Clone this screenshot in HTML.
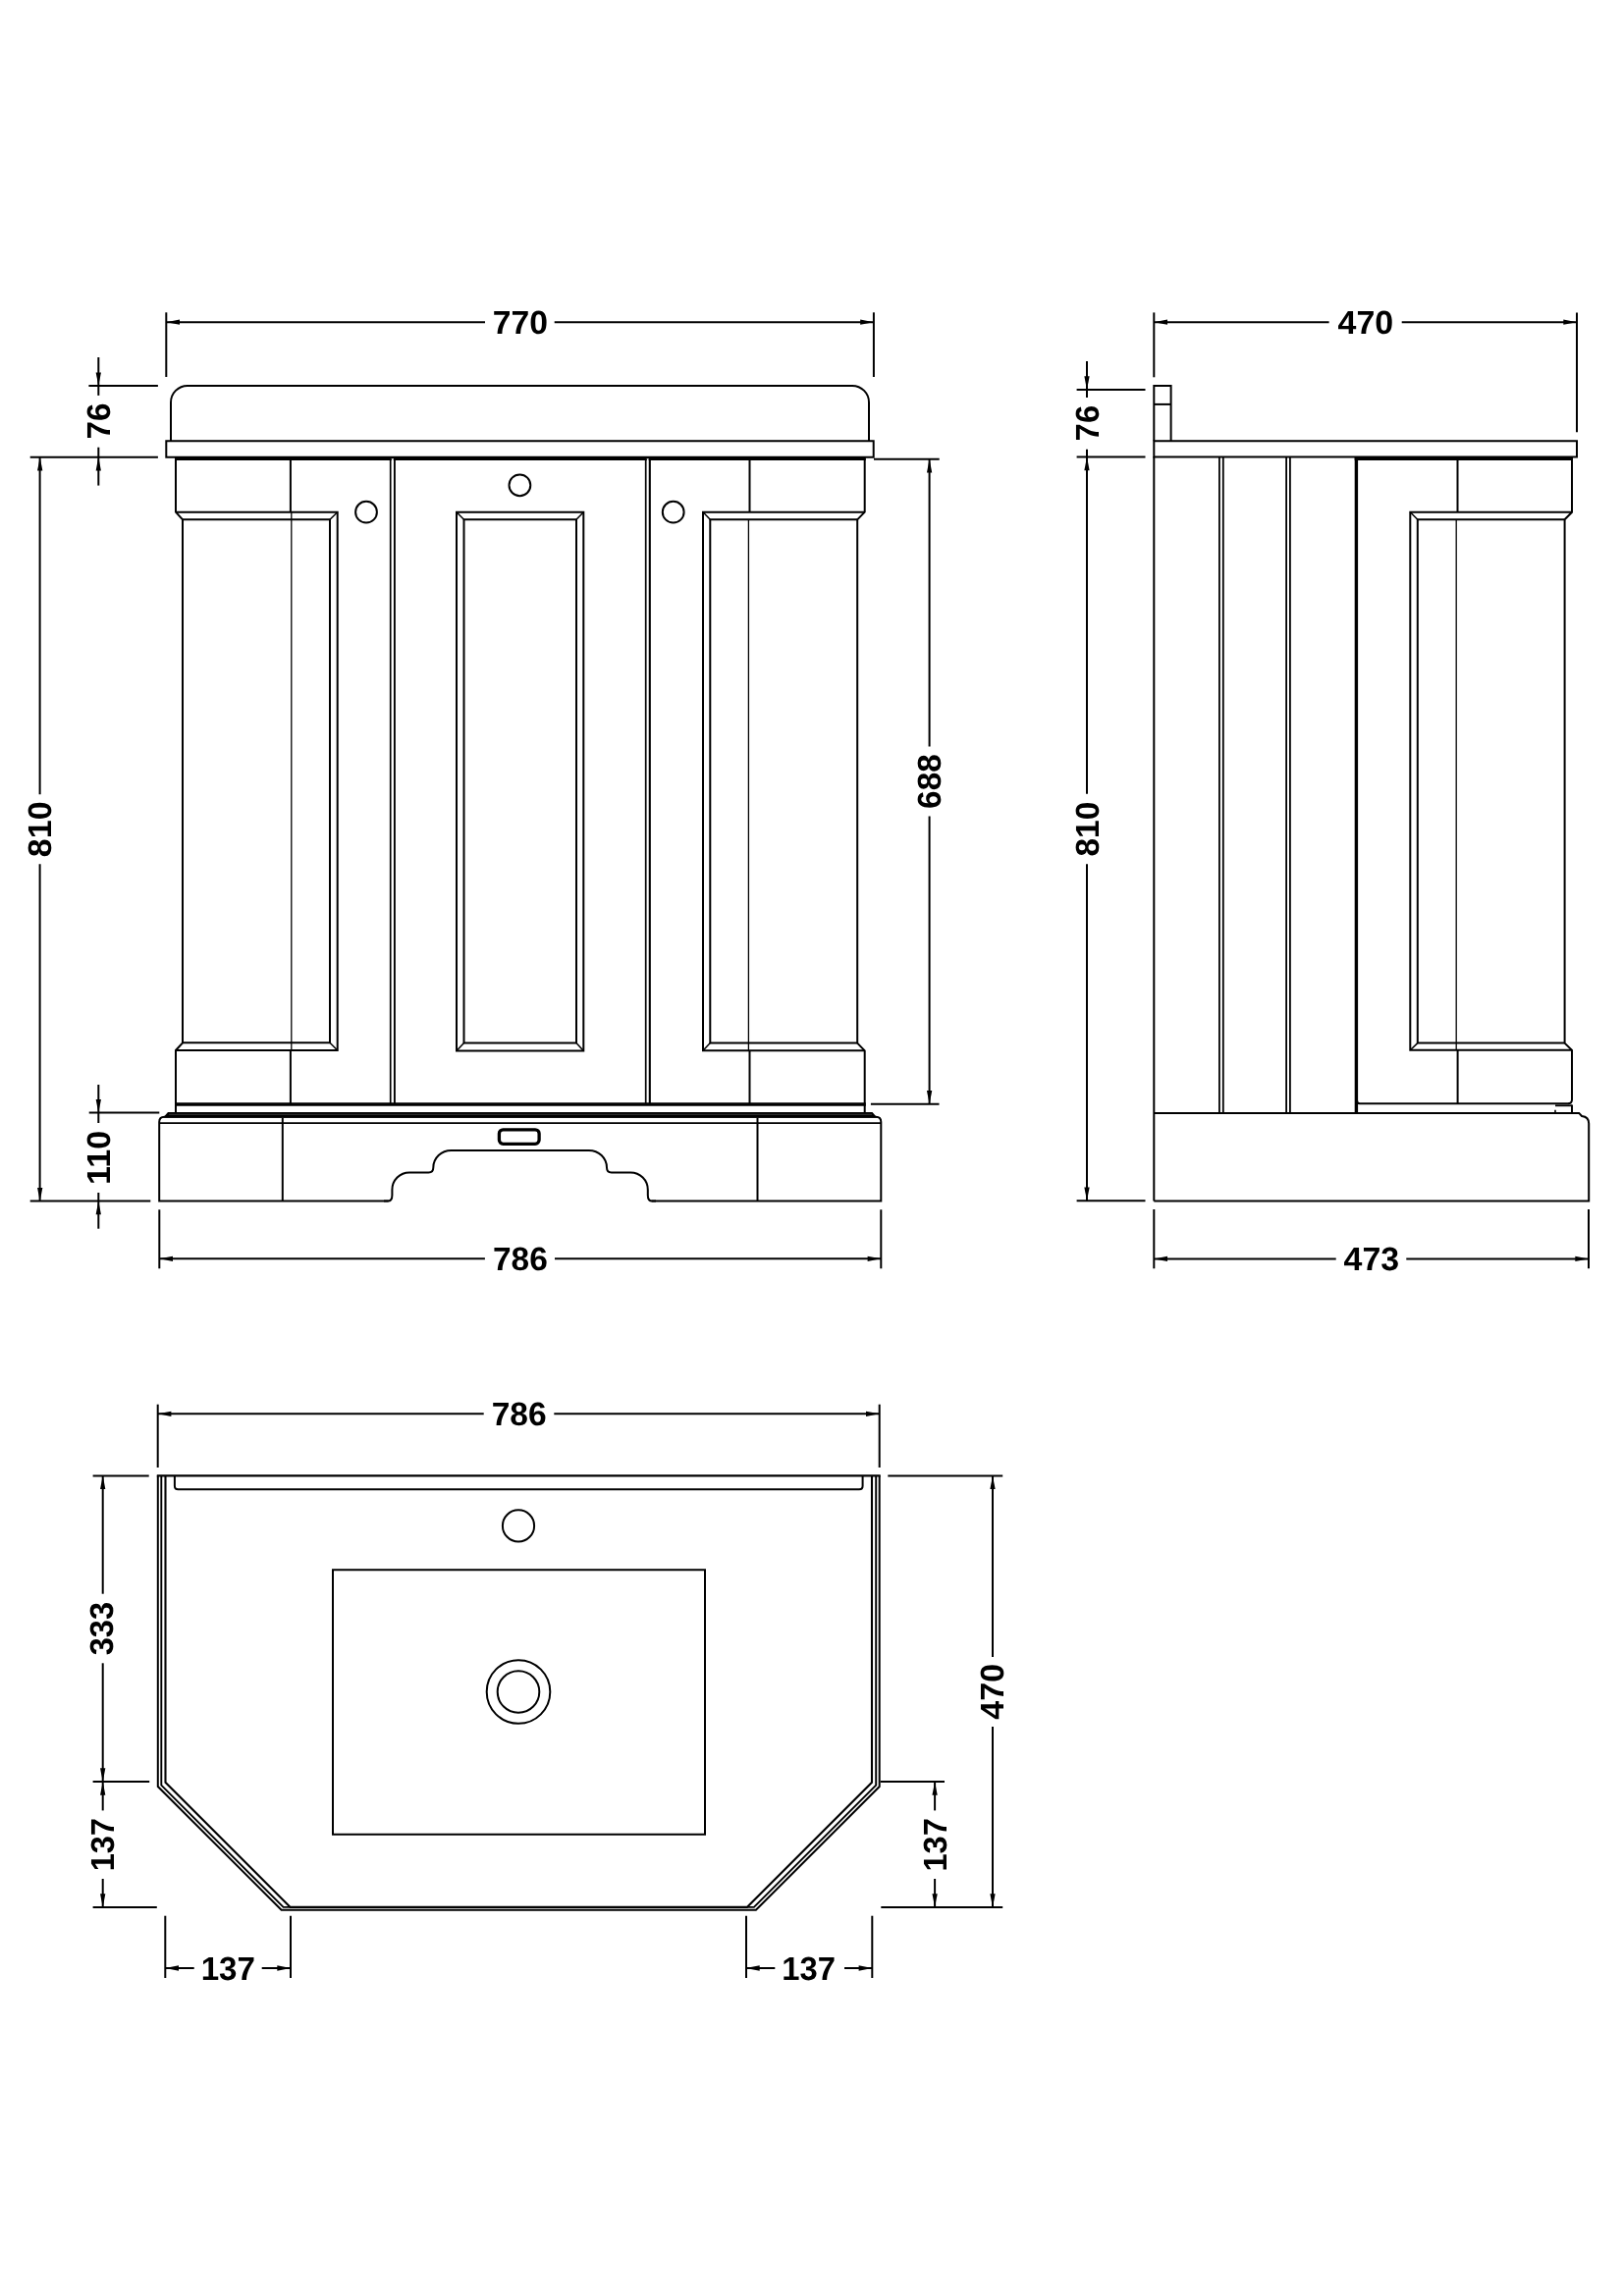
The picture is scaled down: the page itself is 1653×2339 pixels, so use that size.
<!DOCTYPE html>
<html><head><meta charset="utf-8"><title>Vanity unit technical drawing</title>
<style>
html,body{margin:0;padding:0;background:#fff;}
body{width:1653px;height:2339px;overflow:hidden;}
svg{display:block;will-change:transform;}
svg *{stroke:#000;fill:none;}
svg .f{fill:#000;stroke:none;}
svg text{font-family:"Liberation Sans",sans-serif;font-weight:bold;font-size:33.5px;fill:#000;stroke:none;text-rendering:geometricPrecision;}
</style></head><body>
<svg width="1653" height="2339" viewBox="0 0 1653 2339" stroke-linecap="butt">
<rect x="0" y="0" width="1653" height="2339" style="fill:#fff;stroke:none"/>
<line x1="169.3" y1="318.3" x2="169.3" y2="384" stroke-width="2"/>
<line x1="889.9" y1="318.3" x2="889.9" y2="384" stroke-width="2"/>
<line x1="169.3" y1="328.2" x2="494" y2="328.2" stroke-width="2"/>
<line x1="564.7" y1="328.2" x2="889.9" y2="328.2" stroke-width="2"/>
<polygon points="169.30,328.20 183.00,325.55 183.00,330.85" class="f"/>
<polygon points="889.90,328.20 876.20,325.55 876.20,330.85" class="f"/>
<text x="529.9" y="340.2" text-anchor="middle" textLength="56.2" lengthAdjust="spacingAndGlyphs">770</text>
<line x1="90.4" y1="393.1" x2="160.9" y2="393.1" stroke-width="2"/>
<line x1="30.7" y1="465.7" x2="160.9" y2="465.7" stroke-width="2"/>
<line x1="100.3" y1="364" x2="100.3" y2="402.9" stroke-width="2"/>
<polygon points="100.30,393.10 97.65,379.40 102.95,379.40" class="f"/>
<line x1="100.3" y1="455.7" x2="100.3" y2="494.6" stroke-width="2"/>
<polygon points="100.30,465.70 97.65,479.40 102.95,479.40" class="f"/>
<text transform="translate(112.40,429.1) rotate(-90)" text-anchor="middle" textLength="36.8" lengthAdjust="spacingAndGlyphs">76</text>
<line x1="40.6" y1="465.7" x2="40.6" y2="809.2" stroke-width="2"/>
<line x1="40.6" y1="880.3" x2="40.6" y2="1223.6" stroke-width="2"/>
<polygon points="40.70,465.70 38.05,479.40 43.35,479.40" class="f"/>
<polygon points="40.70,1223.60 38.05,1209.90 43.35,1209.90" class="f"/>
<line x1="30.7" y1="1223.6" x2="153.3" y2="1223.6" stroke-width="2"/>
<text transform="translate(52.10,844.8) rotate(-90)" text-anchor="middle" textLength="56.8" lengthAdjust="spacingAndGlyphs">810</text>
<line x1="90.7" y1="1133.5" x2="162.3" y2="1133.5" stroke-width="2"/>
<line x1="100.3" y1="1105" x2="100.3" y2="1144" stroke-width="2"/>
<polygon points="100.30,1133.60 97.65,1119.90 102.95,1119.90" class="f"/>
<line x1="100.3" y1="1215" x2="100.3" y2="1251.7" stroke-width="2"/>
<polygon points="100.30,1223.60 97.65,1237.30 102.95,1237.30" class="f"/>
<text transform="translate(112.10,1179.4) rotate(-90)" text-anchor="middle" textLength="55.0" lengthAdjust="spacingAndGlyphs">110</text>
<line x1="890" y1="467.7" x2="956.7" y2="467.7" stroke-width="2"/>
<line x1="886.9" y1="1124.7" x2="956.5" y2="1124.7" stroke-width="2"/>
<line x1="946.6" y1="467.7" x2="946.6" y2="760.4" stroke-width="2"/>
<line x1="946.6" y1="831.4" x2="946.6" y2="1124.7" stroke-width="2"/>
<polygon points="946.60,467.70 943.95,481.40 949.25,481.40" class="f"/>
<polygon points="946.60,1124.70 943.95,1111.00 949.25,1111.00" class="f"/>
<text transform="translate(958.30,796.1) rotate(-90)" text-anchor="middle" textLength="55.6" lengthAdjust="spacingAndGlyphs">688</text>
<line x1="162.3" y1="1232.3" x2="162.3" y2="1292.3" stroke-width="2"/>
<line x1="897.3" y1="1232.3" x2="897.3" y2="1292.3" stroke-width="2"/>
<line x1="162.3" y1="1282.3" x2="493.9" y2="1282.3" stroke-width="2"/>
<line x1="565" y1="1282.3" x2="897.3" y2="1282.3" stroke-width="2"/>
<polygon points="162.30,1282.30 176.00,1279.65 176.00,1284.95" class="f"/>
<polygon points="897.30,1282.30 883.60,1279.65 883.60,1284.95" class="f"/>
<text x="529.9" y="1294.0" text-anchor="middle" textLength="55.8" lengthAdjust="spacingAndGlyphs">786</text>
<path d="M174,449.3 V410 A17,17 0 0 1 191,392.9 H868 A17,17 0 0 1 885,410 V449.3" stroke-width="2" />
<path d="M169.3,449.3 H889.7 V465.7 H169.3 Z" stroke-width="2" />
<line x1="178" y1="466.9" x2="881.7" y2="466.9" stroke-width="4"/>
<path d="M179,467 V521.7 L186,529.3 V1062.3 L179,1070 V1134" stroke-width="2" />
<path d="M179,521.7 H343.7 V1070 H179" stroke-width="2" />
<path d="M186,529.3 H336 V1062.3 H186" stroke-width="2" />
<line x1="343.7" y1="521.7" x2="336" y2="529.3" stroke-width="1.5"/>
<line x1="343.7" y1="1070" x2="336" y2="1062.3" stroke-width="1.5"/>
<line x1="295.9" y1="467" x2="295.9" y2="521.7" stroke-width="2"/>
<line x1="296.8" y1="521.7" x2="296.8" y2="1070" stroke-width="1.3"/>
<line x1="295.9" y1="1070" x2="295.9" y2="1124" stroke-width="2"/>
<line x1="397.7" y1="468" x2="397.7" y2="1124" stroke-width="1.7"/>
<line x1="401.9" y1="468" x2="401.9" y2="1124" stroke-width="1.9"/>
<line x1="657.7" y1="468" x2="657.7" y2="1124" stroke-width="1.7"/>
<line x1="661.8" y1="468" x2="661.8" y2="1124" stroke-width="2.1"/>
<path d="M398.6,467.2 H401 L400.4,469.5 H399.2 Z M658.6,467.2 H660.8 L660.2,469.5 H659.2 Z" style="fill:#fff;stroke:none"/>
<path d="M465,521.7 H594.3 V1070.5 H465 Z" stroke-width="2" />
<path d="M472.5,529.3 H587 V1062.5 H472.5 Z" stroke-width="2" />
<line x1="465" y1="521.7" x2="472.5" y2="529.3" stroke-width="1.5"/>
<line x1="594.3" y1="521.7" x2="587" y2="529.3" stroke-width="1.5"/>
<line x1="465" y1="1070.5" x2="472.5" y2="1062.5" stroke-width="1.5"/>
<line x1="594.3" y1="1070.5" x2="587" y2="1062.5" stroke-width="1.5"/>
<path d="M880.7,467 V521.7 L873.2,529.3 V1062.6 L880.7,1070.3 V1134" stroke-width="2" />
<path d="M880.7,521.7 H716 V1070.3 H880.7" stroke-width="2" />
<path d="M873.2,529.3 H723.3 V1062.6 H873.2" stroke-width="2" />
<line x1="716" y1="521.7" x2="723.3" y2="529.3" stroke-width="1.5"/>
<line x1="716" y1="1070.3" x2="723.3" y2="1062.6" stroke-width="1.5"/>
<line x1="763.5" y1="467" x2="763.5" y2="521.7" stroke-width="2"/>
<line x1="762.4" y1="529.3" x2="762.4" y2="1070" stroke-width="1.3"/>
<line x1="763.5" y1="1070" x2="763.5" y2="1124" stroke-width="2"/>
<circle cx="373" cy="521.7" r="10.9" stroke-width="2"/>
<circle cx="529.4" cy="494.3" r="10.9" stroke-width="2"/>
<circle cx="685.7" cy="521.7" r="10.9" stroke-width="2"/>
<line x1="178" y1="1125.0" x2="881.7" y2="1125.0" stroke-width="3.5"/>
<polygon points="171,1133.1 888.5,1133.1 893.5,1138.7 166,1138.7" class="f"/>
<line x1="172" y1="1135.3" x2="888" y2="1135.3" style="stroke:#3c3c3c;stroke-width:0.9"/>
<path d="M395.6,1223.6 H162.2 V1143 Q162.2,1137.7 167.5,1137.7 H892 Q897.3,1137.7 897.3,1143 V1223.6 H663.6" stroke-width="2" />
<line x1="162.2" y1="1144.1" x2="897.3" y2="1144.1" stroke-width="1.6"/>
<line x1="287.8" y1="1139" x2="287.8" y2="1223.6" stroke-width="2"/>
<line x1="771.5" y1="1139" x2="771.5" y2="1223.6" stroke-width="2"/>
<path d="M391,1223.6 H395 Q399.4,1223.6 399.4,1217.5 V1212 A17.6,17.6 0 0 1 417,1194.4 H436.5 Q441.3,1194.4 441.3,1189.5 A18.2,17.6 0 0 1 459.5,1171.9 H599.8 A18.2,17.6 0 0 1 618,1189.5 Q618,1194.4 622.8,1194.4 H642.2 A17.6,17.6 0 0 1 659.8,1212 V1217.5 Q659.8,1223.6 664.2,1223.6 H668" stroke-width="2" />
<rect x="508.4" y="1150.85" width="40.7" height="14.5" rx="4" ry="4" stroke-width="3.3"/>
<line x1="1175.3" y1="318.4" x2="1175.3" y2="384.3" stroke-width="2"/>
<line x1="1606" y1="318.4" x2="1606" y2="440.2" stroke-width="2"/>
<line x1="1175.3" y1="328.2" x2="1353.6" y2="328.2" stroke-width="2"/>
<line x1="1427.7" y1="328.2" x2="1606" y2="328.2" stroke-width="2"/>
<polygon points="1175.30,328.20 1189.00,325.55 1189.00,330.85" class="f"/>
<polygon points="1606.00,328.20 1592.30,325.55 1592.30,330.85" class="f"/>
<text x="1390.9" y="340.2" text-anchor="middle" textLength="56.6" lengthAdjust="spacingAndGlyphs">470</text>
<line x1="1096.6" y1="396.9" x2="1166.5" y2="396.9" stroke-width="2"/>
<line x1="1096.6" y1="465.6" x2="1166.5" y2="465.6" stroke-width="2"/>
<line x1="1096.6" y1="1223.2" x2="1166.5" y2="1223.2" stroke-width="2"/>
<line x1="1107" y1="368" x2="1107" y2="404.9" stroke-width="2"/>
<polygon points="1107.00,396.90 1104.35,383.20 1109.65,383.20" class="f"/>
<line x1="1107" y1="457.8" x2="1107" y2="808.8" stroke-width="2"/>
<polygon points="1107.00,465.60 1104.35,479.30 1109.65,479.30" class="f"/>
<line x1="1107" y1="880.3" x2="1107" y2="1223.2" stroke-width="2"/>
<polygon points="1107.00,1223.20 1104.35,1209.50 1109.65,1209.50" class="f"/>
<text transform="translate(1118.50,431.1) rotate(-90)" text-anchor="middle" textLength="36.6" lengthAdjust="spacingAndGlyphs">76</text>
<text transform="translate(1118.50,844.6) rotate(-90)" text-anchor="middle" textLength="55.8" lengthAdjust="spacingAndGlyphs">810</text>
<line x1="1175.3" y1="1232" x2="1175.3" y2="1292.3" stroke-width="2"/>
<line x1="1618" y1="1232" x2="1618" y2="1292.3" stroke-width="2"/>
<line x1="1175.3" y1="1282.4" x2="1360.7" y2="1282.4" stroke-width="2"/>
<line x1="1432.3" y1="1282.4" x2="1618" y2="1282.4" stroke-width="2"/>
<polygon points="1175.30,1282.40 1189.00,1279.75 1189.00,1285.05" class="f"/>
<polygon points="1618.00,1282.40 1604.30,1279.75 1604.30,1285.05" class="f"/>
<text x="1396.9" y="1294.3" text-anchor="middle" textLength="56.6" lengthAdjust="spacingAndGlyphs">473</text>
<path d="M1175.3,449.3 V392.9 H1192.6 V449.3" stroke-width="2" />
<line x1="1175.3" y1="411.9" x2="1192.6" y2="411.9" stroke-width="2"/>
<path d="M1175.3,449.3 H1606 V465.4 H1175.3 Z" stroke-width="2" />
<line x1="1175.3" y1="465" x2="1175.3" y2="1223.5" stroke-width="2"/>
<line x1="1241.9" y1="466" x2="1241.9" y2="1133.9" stroke-width="1.8"/>
<line x1="1245.8" y1="466" x2="1245.8" y2="1133.9" stroke-width="1.8"/>
<line x1="1310.1" y1="466" x2="1310.1" y2="1133.9" stroke-width="1.8"/>
<line x1="1313.9" y1="466" x2="1313.9" y2="1133.9" stroke-width="1.8"/>
<line x1="1381.4" y1="466" x2="1381.4" y2="1133.9" stroke-width="3.4"/>
<line x1="1379.7" y1="466.9" x2="1602" y2="466.9" stroke-width="4"/>
<path d="M1601,467 V521.8 L1593.6,529.2 V1062.6 L1601,1069.8 V1120.3 Q1601,1124.3 1597,1124.3" stroke-width="2" />
<line x1="1601" y1="1125.4" x2="1601" y2="1134" stroke-width="2"/>
<path d="M1601,521.8 H1436.3 V1069.8 H1601" stroke-width="2" />
<path d="M1593.6,529.2 H1443.8 V1062.6 H1593.6" stroke-width="2" />
<line x1="1436.3" y1="521.8" x2="1443.8" y2="529.2" stroke-width="1.5"/>
<line x1="1436.3" y1="1069.8" x2="1443.8" y2="1062.6" stroke-width="1.5"/>
<line x1="1484.5" y1="467" x2="1484.5" y2="521.8" stroke-width="2"/>
<line x1="1483.2" y1="529.2" x2="1483.2" y2="1069.8" stroke-width="1.3"/>
<line x1="1484.6" y1="1069.8" x2="1484.6" y2="1124.3" stroke-width="2"/>
<path d="M1382,1121 Q1382,1124.3 1385,1124.3 H1597.5" stroke-width="2" />
<line x1="1584" y1="1126.3" x2="1601" y2="1126.3" stroke-width="1.8"/>
<line x1="1584" y1="1130.8" x2="1584" y2="1134" stroke-width="1.6"/>
<path d="M1175.3,1133.9 H1608.2 L1611,1137 Q1618.2,1137.8 1618.2,1144.5 V1223.5 H1175.3" stroke-width="2" />
<line x1="160.7" y1="1430.7" x2="160.7" y2="1495" stroke-width="2"/>
<line x1="895.7" y1="1430.7" x2="895.7" y2="1495" stroke-width="2"/>
<line x1="160.7" y1="1440.3" x2="492.7" y2="1440.3" stroke-width="2"/>
<line x1="564.3" y1="1440.3" x2="895.7" y2="1440.3" stroke-width="2"/>
<polygon points="160.70,1440.30 174.40,1437.65 174.40,1442.95" class="f"/>
<polygon points="895.70,1440.30 882.00,1437.65 882.00,1442.95" class="f"/>
<text x="528.7" y="1452.2" text-anchor="middle" textLength="56.0" lengthAdjust="spacingAndGlyphs">786</text>
<line x1="94.6" y1="1503.4" x2="151.7" y2="1503.4" stroke-width="2"/>
<line x1="94.6" y1="1815.0" x2="152.2" y2="1815.0" stroke-width="2"/>
<line x1="94.6" y1="1942.9" x2="159.8" y2="1942.9" stroke-width="2"/>
<line x1="104.7" y1="1503.4" x2="104.7" y2="1623.7" stroke-width="2"/>
<line x1="104.7" y1="1694.3" x2="104.7" y2="1844.4" stroke-width="2"/>
<polygon points="104.70,1503.40 102.05,1517.10 107.35,1517.10" class="f"/>
<polygon points="104.70,1815.00 102.05,1801.30 107.35,1801.30" class="f"/>
<polygon points="104.70,1815.00 102.05,1828.70 107.35,1828.70" class="f"/>
<line x1="104.7" y1="1914" x2="104.7" y2="1942.9" stroke-width="2"/>
<polygon points="104.70,1942.90 102.05,1929.20 107.35,1929.20" class="f"/>
<text transform="translate(115.40,1659.1) rotate(-90)" text-anchor="middle" textLength="54.4" lengthAdjust="spacingAndGlyphs">333</text>
<text transform="translate(115.70,1879.2) rotate(-90)" text-anchor="middle" textLength="54.2" lengthAdjust="spacingAndGlyphs">137</text>
<line x1="904.3" y1="1503.4" x2="1021.2" y2="1503.4" stroke-width="2"/>
<line x1="896.7" y1="1815.0" x2="962" y2="1815.0" stroke-width="2"/>
<line x1="897.3" y1="1942.9" x2="1021.2" y2="1942.9" stroke-width="2"/>
<line x1="1011" y1="1503.4" x2="1011" y2="1687.9" stroke-width="2"/>
<line x1="1011" y1="1759" x2="1011" y2="1942.9" stroke-width="2"/>
<polygon points="1011.00,1503.40 1008.35,1517.10 1013.65,1517.10" class="f"/>
<polygon points="1011.00,1942.90 1008.35,1929.20 1013.65,1929.20" class="f"/>
<line x1="952.1" y1="1815.0" x2="952.1" y2="1844.4" stroke-width="2"/>
<polygon points="952.10,1815.00 949.45,1828.70 954.75,1828.70" class="f"/>
<line x1="952.1" y1="1914" x2="952.1" y2="1942.9" stroke-width="2"/>
<polygon points="952.10,1942.90 949.45,1929.20 954.75,1929.20" class="f"/>
<text transform="translate(1022.10,1723.3) rotate(-90)" text-anchor="middle" textLength="56.7" lengthAdjust="spacingAndGlyphs">470</text>
<text transform="translate(963.70,1879.4) rotate(-90)" text-anchor="middle" textLength="54.2" lengthAdjust="spacingAndGlyphs">137</text>
<line x1="168.3" y1="1951.7" x2="168.3" y2="2015" stroke-width="2"/>
<line x1="296" y1="1951.7" x2="296" y2="2015" stroke-width="2"/>
<line x1="168.3" y1="2005" x2="197.7" y2="2005" stroke-width="2"/>
<line x1="266.7" y1="2005" x2="296" y2="2005" stroke-width="2"/>
<polygon points="168.30,2005.00 182.00,2002.35 182.00,2007.65" class="f"/>
<polygon points="296.00,2005.00 282.30,2002.35 282.30,2007.65" class="f"/>
<text x="232.3" y="2016.5" text-anchor="middle" textLength="55.3" lengthAdjust="spacingAndGlyphs">137</text>
<line x1="760" y1="1951.7" x2="760" y2="2015" stroke-width="2"/>
<line x1="888.3" y1="1951.7" x2="888.3" y2="2015" stroke-width="2"/>
<line x1="760" y1="2005" x2="789.3" y2="2005" stroke-width="2"/>
<line x1="860" y1="2005" x2="888.3" y2="2005" stroke-width="2"/>
<polygon points="760.00,2005.00 773.70,2002.35 773.70,2007.65" class="f"/>
<polygon points="888.30,2005.00 874.60,2002.35 874.60,2007.65" class="f"/>
<text x="823.7" y="2016.5" text-anchor="middle" textLength="54.7" lengthAdjust="spacingAndGlyphs">137</text>
<line x1="159.8" y1="1503.3" x2="896.7" y2="1503.3" stroke-width="2.2"/>
<path d="M160.8,1503.3 V1820 L286.6,1945.8 H769.9 L895.7,1820 V1503.3" stroke-width="2" stroke-linejoin="miter"/>
<path d="M164.3,1503.3 V1818.6 L288.6,1942.9 H767.9 L892.2,1818.6 V1503.3" stroke-width="1.9" />
<path d="M168.5,1503.3 V1815.7 L295.7,1942.9 H760.8 L888,1815.7 V1503.3" stroke-width="2.1" />
<path d="M177.9,1503.3 V1513.7 Q177.9,1517.2 181.4,1517.2 H875.1 Q878.6,1517.2 878.6,1513.7 V1503.3" stroke-width="2" />
<circle cx="528" cy="1554.4" r="16.1" stroke-width="2"/>
<path d="M339,1599.3 H718 V1868.7 H339 Z" stroke-width="2" />
<circle cx="528" cy="1723.5" r="32.3" stroke-width="2"/>
<circle cx="528" cy="1723.5" r="21.3" stroke-width="2"/>
</svg>
</body></html>
